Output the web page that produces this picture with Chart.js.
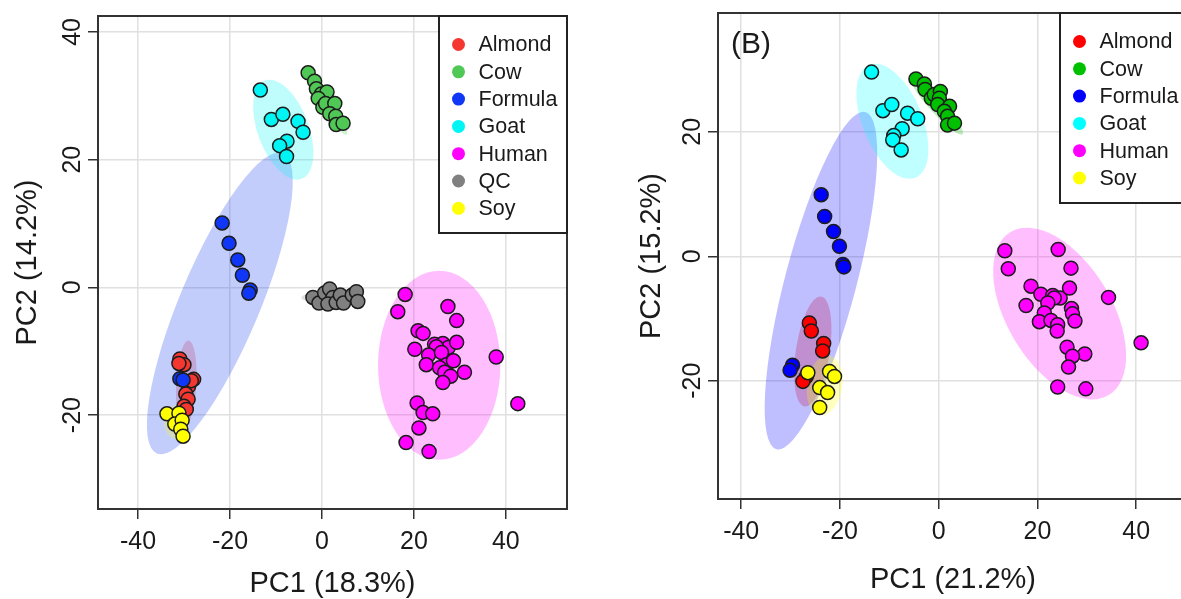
<!DOCTYPE html>
<html lang="en">
<head>
<meta charset="UTF-8">
<title>PCA score plots</title>
<script src="https://cdn.jsdelivr.net/npm/chart.js"></script>
<style>
  html, body { margin: 0; padding: 0; background: #fff; overflow: hidden; }
  #wrap { position: relative; width: 1181px; height: 599px; overflow: hidden; }
  .panel { position: absolute; top: 0; height: 599px; }
  #panelA { left: 0; width: 590px; }
  #panelB { left: 600px; width: 600px; }
</style>
</head>
<body>
<div id="wrap">
  <div class="panel" id="panelA"><canvas id="chartA"></canvas></div>
  <div class="panel" id="panelB"><canvas id="chartB"></canvas></div>
</div>
<script>
const FONT = "'Liberation Sans', Arial, Helvetica, sans-serif";

// ---- data ----
const groupsA = ['Almond', 'Cow', 'Formula', 'Goat', 'Human', 'QC', 'Soy'];
const groupsB = ['Almond', 'Cow', 'Formula', 'Goat', 'Human', 'Soy'];

const xTicks = [-40, -20, 0, 20, 40];
const yTicksA = [-20, 0, 20, 40];
const yTicksB = [-20, 0, 20];

const xRangeA = [-48.7, 53.3];
const yRangeA = [-34.7, 42.5];
const xRangeB = [-44.7, 50.5];
const yRangeB = [-39.0, 39.1];

// panel A scores [PC1, PC2]
const almondA = [[-30.9,-11.2],[-30.0,-12.1],[-31.1,-11.9],[-27.9,-14.4],[-29.0,-15.5],[-28.4,-14.6],[-29.6,-16.7],[-29.1,-17.5],[-30.0,-18.6],[-29.5,-19.1]];
const cowA = [[-3.0,33.6],[-1.6,32.3],[-1.2,31.1],[-0.1,30.3],[1.1,30.6],[-0.8,29.6],[0.2,28.2],[0.8,28.8],[2.8,28.8],[1.7,27.2],[3.0,26.8],[3.1,25.5],[4.6,25.7]];
const formulaA = [[-21.7,10.1],[-20.2,6.9],[-18.3,4.3],[-17.3,1.9],[-15.6,-0.4],[-15.9,-0.9],[-30.9,-14.3],[-30.2,-14.5]];
const goatA = [[-13.4,30.9],[-11.0,26.3],[-8.5,27.1],[-5.2,26.0],[-4.1,24.3],[-7.6,22.9],[-9.2,22.2],[-7.7,20.5]];
const humanA = [[18.1,-1.1],[16.5,-3.8],[27.4,-3.0],[29.3,-5.2],[20.9,-6.8],[22.0,-7.2],[20.2,-9.7],[24.5,-8.9],[26.3,-8.8],[27.5,-9.4],[29.3,-8.6],[24.9,-9.3],[23.2,-10.6],[22.7,-12.1],[26.0,-10.2],[27.1,-12.1],[28.6,-11.5],[25.6,-12.6],[26.7,-13.3],[28.0,-13.9],[31.0,-13.3],[26.3,-14.9],[37.9,-10.9],[42.6,-18.2],[20.7,-18.1],[22.0,-19.6],[24.1,-19.8],[21.1,-22.0],[18.3,-24.3],[23.3,-25.7]];
const qcA = [[-1.96,-1.57],[-0.65,-2.45],[0.59,-0.88],[1.67,-0.25],[2.39,-1.57],[1.3,-2.6],[3.1,-2.35],[4.0,-1.2],[4.7,-2.45],[6.6,-1.2],[7.5,-0.67],[7.8,-2.2]];
const soyA = [[-33.7,-19.8],[-31.1,-19.7],[-32.0,-21.4],[-30.4,-20.8],[-30.7,-22.2],[-30.2,-23.3]];

// panel B scores [PC1, PC2]
const almondB = [[-26.2,-10.7],[-25.8,-12.0],[-23.3,-14.0],[-23.5,-15.2],[-26.8,-19.3],[-27.5,-20.1]];
const cowB = [[-4.6,28.5],[-2.9,27.7],[-2.75,26.8],[-1.5,25.4],[-0.9,26.0],[0.34,26.5],[0.14,25.4],[-0.2,24.4],[2.2,24.1],[1.15,23.3],[1.8,22.5],[1.8,21.1],[3.2,21.4]];
const formulaB = [[-23.8,9.9],[-23.1,6.4],[-21.3,4.0],[-20.1,1.6],[-19.4,-1.3],[-19.2,-1.7],[-29.6,-17.5],[-30.1,-18.3]];
const goatB = [[-13.6,29.6],[-11.3,23.4],[-9.5,24.4],[-6.3,23.0],[-4.25,22.1],[-7.4,20.5],[-9.1,19.4],[-9.3,18.7],[-7.6,17.1]];
const humanB = [[13.4,0.9],[14.1,-2.0],[24.2,1.1],[26.8,-1.9],[18.7,-4.8],[20.7,-6.1],[17.7,-7.9],[23.1,-6.3],[24.6,-6.7],[26.5,-5.1],[23.4,-6.7],[22.1,-7.5],[21.4,-9.1],[26.9,-8.4],[27.1,-9.25],[20.4,-10.5],[22.75,-10.3],[24.1,-11.0],[24.0,-12.0],[27.6,-10.4],[34.4,-6.6],[41.0,-13.9],[26.0,-14.6],[29.6,-15.7],[27.1,-16.05],[26.3,-17.8],[24.1,-21.0],[29.8,-21.3]];
const soyB = [[-26.5,-18.7],[-22.1,-18.5],[-21.1,-19.3],[-24.1,-21.1],[-22.5,-21.9],[-24.1,-24.3]];

// confidence ellipses: [centre PC1, centre PC2, axis1 dPC1, axis1 dPC2, axis2 dPC1, axis2 dPC2]
const ellipsesA = [
  [-29.5, -15.1, 0.5, 6.8, 2.2, -0.1],
  [0.8, 29.1, 4.57, -5.18, 1.28, 0.6],
  [-22.2, -2.5, 13.7, 23.5, 8.0, -2.45],
  [-8.4, 24.7, 4.0, -7.7, 5.2, 1.41],
  [25.5, -12.2, 13.3, 0, 0, 14.8],
  [2.1, -1.6, 6.6, 0, 0, 0.95],
  [-31.8, -21.1, 0, 2.6, 2.5, 0]
];
const ellipsesB = [
  [-25.5, -15.3, 1.68, 8.83, 3.4, -0.4],
  [-0.35, 24.1, 5.2, -4.5, 1.05, 0.75],
  [-23.85, -3.9, 9.0, 27.1, 7.0, -1.46],
  [-9.37, 21.7, 4.66, -9.07, 5.63, 1.81],
  [24.5, -9.2, 9.96, -13.1, 9.07, 4.33],
  [-23.1, -20.75, 0.6, 4.8, 3.6, 0]
];

const colorsA = [[245,55,50],[80,200,85],[15,55,245],[0,245,245],[255,0,255],[128,128,128],[255,255,0]];
const colorsB = [[255,0,0],[0,192,0],[0,0,255],[0,255,255],[255,0,255],[255,255,0]];

// ---- drawing ----
const rgba = (c, a) => `rgba(${c[0]},${c[1]},${c[2]},${a})`;

const ellipsePlugin = {
  id: 'ellipses',
  beforeDatasetsDraw(chart, args, opts) {
    const { ctx, chartArea: a, scales: { x, y } } = chart;
    ctx.save();
    ctx.beginPath();
    ctx.rect(a.left, a.top, a.width, a.height);
    ctx.clip();
    opts.items.forEach((e, i) => {
      const [cx, cy, ax, ay, bx, by] = e;
      const px = x.getPixelForValue(cx), py = y.getPixelForValue(cy);
      ctx.save();
      ctx.transform(
        x.getPixelForValue(cx + ax) - px, y.getPixelForValue(cy + ay) - py,
        x.getPixelForValue(cx + bx) - px, y.getPixelForValue(cy + by) - py,
        px, py);
      ctx.beginPath();
      ctx.arc(0, 0, 1, 0, Math.PI * 2);
      ctx.restore();
      ctx.fillStyle = rgba(opts.colors[i], 0.25);
      ctx.fill();
    });
    ctx.restore();
  }
};

const framePlugin = {
  id: 'frame',
  afterDraw(chart, args, opts) {
    const { ctx, chartArea: a } = chart;
    ctx.save();
    ctx.lineWidth = 2;
    ctx.strokeStyle = '#333';
    ctx.strokeRect(a.left, a.top, a.width, a.height);

    // legend box in the top right corner
    const lx = a.right - opts.width, ly = a.top;
    ctx.fillStyle = '#fff';
    ctx.fillRect(lx, ly, opts.width, opts.height);
    ctx.strokeStyle = '#222';
    ctx.strokeRect(lx, ly, opts.width, opts.height);
    ctx.font = `21.5px ${FONT}`;
    ctx.textBaseline = 'middle';
    ctx.textAlign = 'left';
    chart.data.datasets.forEach((ds, i) => {
      const ry = ly + 28.5 + i * 27.3;
      ctx.fillStyle = ds.backgroundColor;
      ctx.beginPath();
      ctx.arc(lx + 19.5, ry, 6.5, 0, Math.PI * 2);
      ctx.fill();
      ctx.fillStyle = '#1a1a1a';
      ctx.fillText(ds.label, lx + 39.5, ry + 1);
    });

    if (opts.tag) {
      ctx.font = `30px ${FONT}`;
      ctx.textBaseline = 'alphabetic';
      ctx.fillStyle = '#1a1a1a';
      ctx.fillText(opts.tag, a.left + 13, a.top + 40);
    }
    ctx.restore();
  }
};

function makeChart(id, groups, series, colors, ellipses, xr, yr, yTicks, xTitle, yTitle, box) {
  const datasets = groups.map((g, i) => ({
    label: g,
    data: series[i].map(p => ({ x: p[0], y: p[1] })),
    backgroundColor: rgba(colors[i], 1),
    borderColor: '#1c1c1c',
    borderWidth: 1.5,
    pointRadius: 7,
    pointHoverRadius: 7,
    order: groups.length - i
  }));
  const grid = { color: '#e0e0e0', lineWidth: 1.5, tickColor: '#333', tickLength: 10, tickWidth: 1.5 };
  return new Chart(document.getElementById(id), {
    type: 'scatter',
    data: { datasets },
    options: {
      responsive: true,
      maintainAspectRatio: false,
      animation: false,
      layout: { padding: box.padding },
      plugins: {
        legend: { display: false },
        tooltip: { enabled: false },
        ellipses: { items: ellipses, colors },
        frame: { width: 128, height: box.legendHeight, tag: box.tag }
      },
      scales: {
        x: {
          type: 'linear', min: xr[0], max: xr[1],
          afterBuildTicks: s => { s.ticks = xTicks.map(v => ({ value: v })); },
          afterFit: s => { s.height = box.xHeight; },
          ticks: { autoSkip: false, maxRotation: 0, padding: 8, color: '#1a1a1a', font: { family: FONT, size: 25 } },
          grid, border: { display: false },
          title: { display: true, text: xTitle, color: '#1a1a1a', font: { family: FONT, size: 29 }, padding: { top: 0, bottom: box.xTitlePad } }
        },
        y: {
          type: 'linear', min: yr[0], max: yr[1],
          afterBuildTicks: s => { s.ticks = yTicks.map(v => ({ value: v })); },
          afterFit: s => { s.width = box.yWidth; },
          ticks: { autoSkip: false, minRotation: 90, maxRotation: 90, crossAlign: 'center', padding: -3, color: '#1a1a1a', font: { family: FONT, size: 25 } },
          grid, border: { display: false },
          title: { display: true, text: yTitle, color: '#1a1a1a', font: { family: FONT, size: 29 }, padding: { top: box.yTitlePad, bottom: 0 } }
        }
      }
    },
    plugins: [ellipsePlugin, framePlugin]
  });
}

makeChart('chartA', groupsA, [almondA, cowA, formulaA, goatA, humanA, qcA, soyA], colorsA, ellipsesA,
  xRangeA, yRangeA, yTicksA, 'PC1 (18.3%)', 'PC2 (14.2%)',
  { padding: { left: 0, top: 16, right: 23, bottom: 0 }, yWidth: 98, xHeight: 90, xTitlePad: -2, yTitlePad: 11, legendHeight: 217 });

makeChart('chartB', groupsB, [almondB, cowB, formulaB, goatB, humanB, soyB], colorsB, ellipsesB,
  xRangeB, yRangeB, yTicksB, 'PC1 (21.2%)', 'PC2 (15.2%)',
  { padding: { left: 0, top: 13, right: 12, bottom: 0 }, yWidth: 118, xHeight: 100, xTitlePad: 2, yTitlePad: 35, legendHeight: 190, tag: '(B)' });
</script>
</body>
</html>
